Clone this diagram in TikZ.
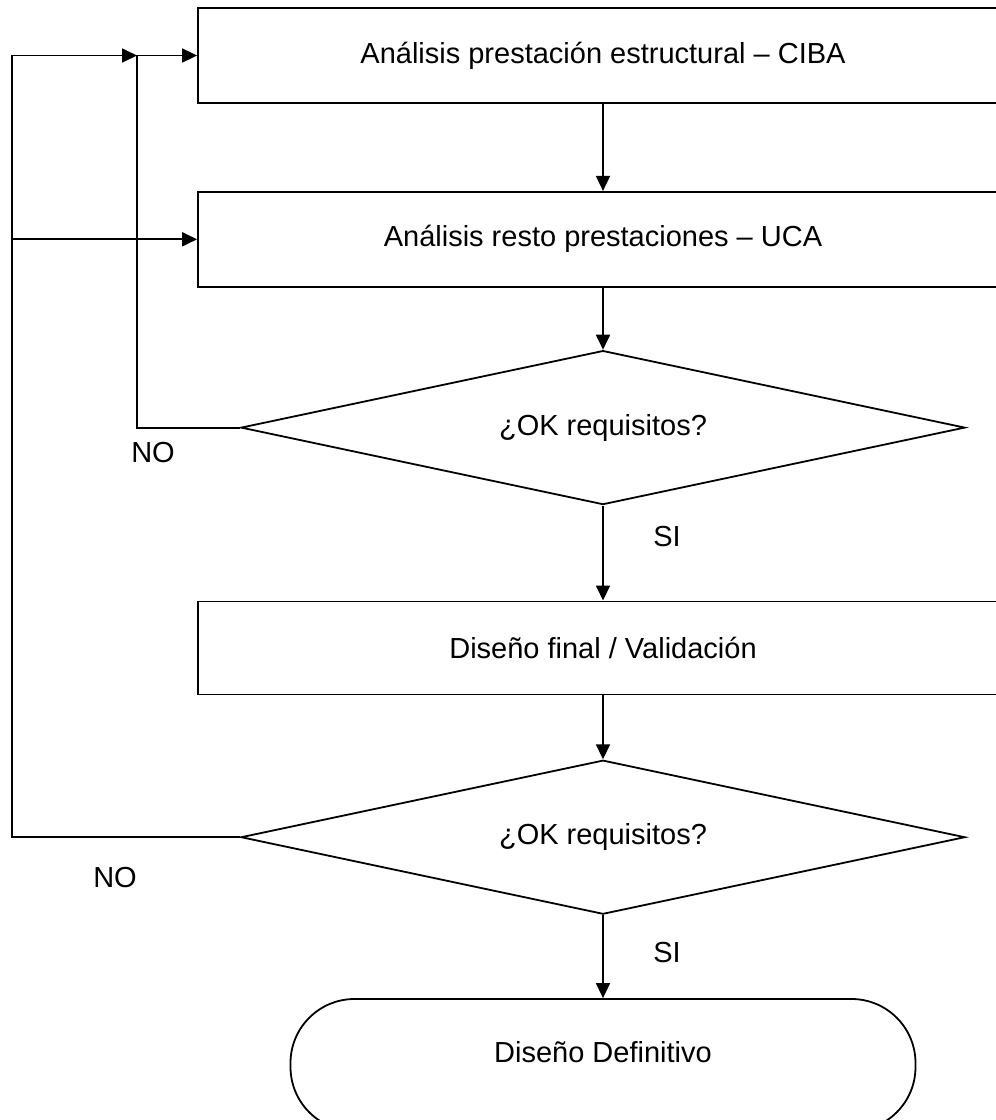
\documentclass[tikz,border=0pt]{standalone}
\usepackage{fontspec}
\setmainfont{Liberation Sans}
\usetikzlibrary{shapes.geometric, arrows.meta, positioning}
\tikzset{
  process/.style={rectangle, draw=black, line width=1.8pt,
    minimum width=810pt, minimum height=95pt,
    font=\fontsize{29}{34}\selectfont},
  decision/.style={diamond, aspect=4.7, draw=black, line width=1.8pt,
    minimum width=724pt, minimum height=154pt, inner sep=0pt,
    font=\fontsize{29}{34}\selectfont},
  terminal/.style={rectangle, rounded corners=64pt, draw=black,
    line width=1.8pt, minimum width=625pt, minimum height=132pt,
    text depth=27pt, font=\fontsize{29}{34}\selectfont},
  arrow/.style={-{Triangle[length=15pt,width=14pt]}, line width=1.8pt},
  answer/.style={font=\fontsize{29}{34}\selectfont},
}
\begin{document}
\begin{tikzpicture}[x=1pt, y=1pt]
  \useasboundingbox (0,0) rectangle (996,-1120);
  \clip (0,0) rectangle (996,-1120);

  \node[process] (ciba) at (603,-55.5) {Análisis prestación estructural – CIBA};
  \node[process, below=87pt of ciba] (uca) {Análisis resto prestaciones – UCA};
  \node[decision, below=62pt of uca] (check1) {¿OK requisitos?};
  \node[process, below=95pt of check1, minimum height=93pt] (final)
    {Diseño final / Validación};
  \node[decision, below=64pt of final] (check2) {¿OK requisitos?};
  \node[terminal, below=83pt of check2] (def) {Diseño Definitivo};

  \coordinate (loopa) at (137,-423.5);
  \coordinate (loopb) at (12,-829.5);

  \draw[arrow] (ciba) -- (uca);
  \draw[arrow] (uca) -- (check1);
  \draw[arrow] (check1) -- (final);
  \draw[arrow] (final) -- (check2);
  \draw[arrow] (check2) -- (def);
  \draw[arrow] (check1.west) -- (loopa |- check1.west) |- (ciba.west);
  \draw[arrow] (check2.west) -- (loopb |- check2.west) |- (loopa |- ciba.west);
  \draw[arrow] (loopb |- uca.west) -- (uca.west);

  \node[answer] (no1) at (153,-453) {NO};
  \node[answer] (si1) at (667,-537) {SI};
  \node[answer] (no2) at (115,-878) {NO};
  \node[answer] (si2) at (667,-953) {SI};
\end{tikzpicture}
\end{document}
